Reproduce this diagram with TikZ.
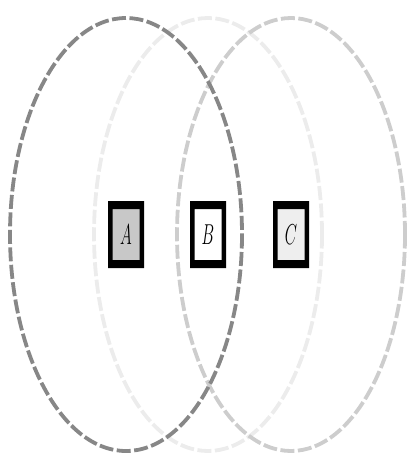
\documentclass[tikz,border=0pt]{standalone}
\usepackage{tikz}
\usetikzlibrary{calc}

\definecolor{ringA}{RGB}{135,135,135}
\definecolor{ringB}{RGB}{236,236,236}
\definecolor{ringC}{RGB}{205,205,205}
\definecolor{fillA}{RGB}{200,200,200}
\definecolor{fillC}{RGB}{238,238,238}

\newcommand{\setlabel}[1]{\scalebox{1.1}[2.0]{\fontsize{14}{16}\selectfont$#1$}}

\begin{document}
\begin{tikzpicture}[x=1pt, y=-1pt,
    setbox/.style={minimum width=36pt, minimum height=67pt, inner sep=0pt,
      path picture={
        \fill[black, even odd rule]
          (path picture bounding box.south west) rectangle
          (path picture bounding box.north east)
          ($(path picture bounding box.south west)+(4.5pt,8pt)$) rectangle
          ($(path picture bounding box.north east)+(-4.5pt,-8pt)$);
      }},
    ring/.style={line width=3.8pt, dash pattern=on 14pt off 3.5pt}]

  \useasboundingbox (0,0) rectangle (407,457);

  % Set labels
  \node[setbox, fill=fillA] (A) at (126,234.5) {\setlabel{A}};
  \node[setbox, fill=white] (B) at (208,234.5) {\setlabel{B}};
  \node[setbox, fill=fillC] (C) at (291,234.5) {\setlabel{C}};

  % Rings round each set
  \draw[ring, ringB] (B) ellipse [x radius=114, y radius=216.5];
  \draw[ring, ringC] (C) ellipse [x radius=114, y radius=216.5];
  \draw[ring, ringA] (A) ellipse [x radius=116, y radius=216.5];

\end{tikzpicture}
\end{document}
